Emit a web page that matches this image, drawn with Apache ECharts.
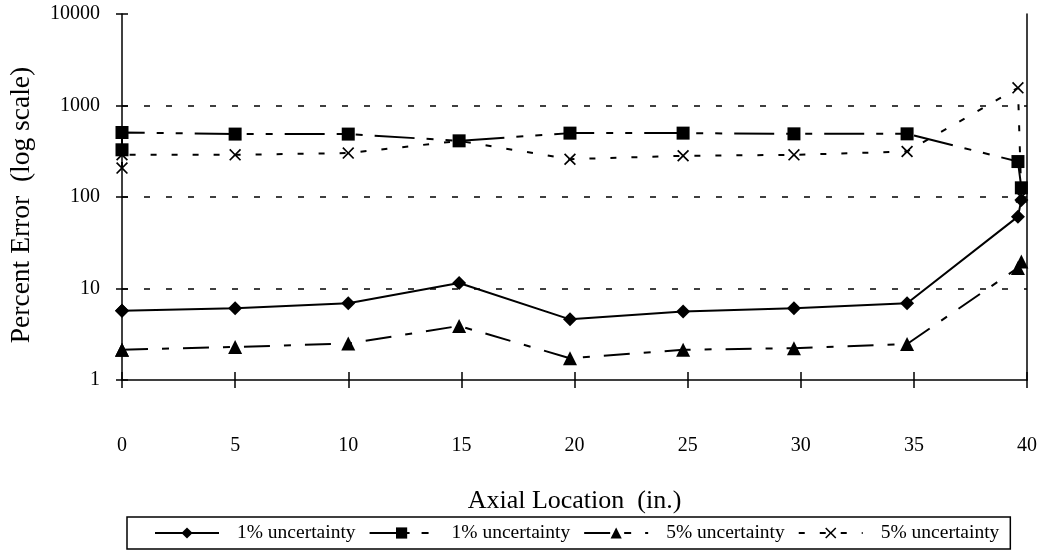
<!DOCTYPE html>
<html>
<head>
<meta charset="utf-8">
<script src="https://cdn.jsdelivr.net/npm/echarts@6/dist/echarts.min.js"></script>
<style>
  html, body { margin: 0; padding: 0; background: #fff; }
  #main { width: 1049px; height: 556px; }
</style>
</head>
<body>
<div id="main"></div>
<script>
var xTicks = [0, 5, 10, 15, 20, 25, 30, 35, 40];
var yTicks = [1, 10, 100, 1000, 10000];
// axial positions of the measured points (two readings at each end)
var xPos = [0, 0, 5, 10, 14.9, 19.8, 24.8, 29.7, 34.7, 39.6, 39.75];
var diamondVals = [5.7, 5.7, 6.1, 6.9, 11.5, 4.6, 5.6, 6.1, 6.9, 61, 93];
var squareVals = [328, 507, 487, 487, 411, 499, 499, 490, 490, 244, 126];
var triangleVals = [2.14, 2.14, 2.3, 2.5, 3.9, 1.73, 2.14, 2.23, 2.47, 16.8, 19.7];
var crossVals = [207, 290, 289, 302, 410, 259, 282, 289, 314, 1560, 100];
var seriesIds = ['s1', 's2', 's3', 's4'];
var legendLabels = ['1% uncertainty', '1% uncertainty', '5% uncertainty', '5% uncertainty'];

var serif = "'Liberation Serif', 'Times New Roman', serif";
var crossPath = 'path://M0,1L1,0L5,4L9,0L10,1L6,5L10,9L9,10L5,6L1,10L0,9L4,5Z';

function pairs(vals) {
  var res = [];
  for (var i = 0; i < xPos.length; i++) {
    res.push([xPos[i], vals[i]]);
  }
  return res;
}

var dom = document.getElementById('main');
var myChart = echarts.init(dom, null, { renderer: 'canvas' });

function lineSeries(id, vals, symbol, size, dash) {
  return {
    name: id,
    type: 'line',
    data: pairs(vals),
    xAxisIndex: 0,
    yAxisIndex: 0,
    clip: false,
    symbol: symbol,
    symbolSize: size,
    showSymbol: true,
    itemStyle: { color: '#000', borderWidth: 0 },
    lineStyle: { color: '#000', width: 2, type: dash },
    emphasis: { disabled: true }
  };
}

var option = {
  backgroundColor: '#fff',
  animation: false,
  grid: { left: 122, right: 22, top: 14, bottom: 176 },
  legend: {
    data: seriesIds,
    left: 127,
    top: 517,
    padding: [6, 11, 6, 27],
    itemWidth: 64,
    itemHeight: 14,
    itemGap: 13,
    borderColor: '#000',
    borderWidth: 1.5,
    formatter: function (name) {
      return legendLabels[seriesIds.indexOf(name)];
    },
    textStyle: { fontFamily: serif, fontSize: 19.5, color: '#000', padding: [0, 0, 0, 13] }
  },
  xAxis: [{
    type: 'value',
    min: xTicks[0],
    max: xTicks[xTicks.length - 1],
    interval: 5,
    name: 'Axial Location  (in.)',
    nameLocation: 'middle',
    nameGap: 108,
    nameTextStyle: { fontFamily: serif, fontSize: 26, color: '#000' },
    axisLine: { onZero: false, lineStyle: { color: '#000', width: 1.5 } },
    axisTick: { show: true, length: 8, lineStyle: { color: '#000', width: 1.5 } },
    axisLabel: { margin: 56, fontFamily: serif, fontSize: 20, color: '#000' },
    splitLine: { show: false }
  }, {
    type: 'value',
    position: 'bottom',
    min: xTicks[0],
    max: xTicks[xTicks.length - 1],
    interval: 5,
    axisLine: { show: false },
    axisTick: { show: true, inside: true, length: 8, lineStyle: { color: '#000', width: 1.5 } },
    axisLabel: { show: false },
    splitLine: { show: false }
  }],
  yAxis: [{
    type: 'log',
    logBase: 10,
    min: yTicks[0],
    max: yTicks[yTicks.length - 1],
    position: 'left',
    name: 'Percent Error  (log scale)',
    nameLocation: 'middle',
    nameGap: 86,
    nameTextStyle: { fontFamily: serif, fontSize: 27.5, color: '#000', padding: [0, 16, 0, 0] },
    axisLine: { show: true, onZero: false, lineStyle: { color: '#000', width: 1.5 } },
    axisTick: { show: true, length: 6, lineStyle: { color: '#000', width: 1.5 } },
    axisLabel: {
      margin: 22, fontFamily: serif, fontSize: 20, color: '#000',
      formatter: function (v) { return String(Math.round(v)); }
    },
    splitLine: {
      show: true,
      showMinLine: false,
      showMaxLine: false,
      lineStyle: { color: '#000', width: 1.5, type: [6, 16] }
    }
  }, {
    type: 'log',
    logBase: 10,
    min: yTicks[0],
    max: yTicks[yTicks.length - 1],
    position: 'right',
    axisLine: { show: true, onZero: false, lineStyle: { color: '#000', width: 1.5 } },
    axisTick: { show: false },
    axisLabel: { show: false },
    splitLine: { show: false }
  }, {
    type: 'log',
    logBase: 10,
    min: yTicks[0],
    max: yTicks[yTicks.length - 1],
    position: 'left',
    axisLine: { show: false },
    axisTick: { show: true, inside: true, length: 6, lineStyle: { color: '#000', width: 1.5 } },
    axisLabel: { show: false },
    splitLine: { show: false }
  }],
  series: [
    lineSeries('s1', diamondVals, 'diamond', 14, 'solid'),
    lineSeries('s2', squareVals, 'rect', 13, [40, 12, 7, 12, 7, 12]),
    lineSeries('s3', triangleVals, 'triangle', 14, [26, 14, 7, 14]),
    lineSeries('s4', crossVals, crossPath, 12, [6, 15])
  ]
};

if (option && typeof option === 'object') {
  myChart.setOption(option, true);
}
</script>
</body>
</html>
